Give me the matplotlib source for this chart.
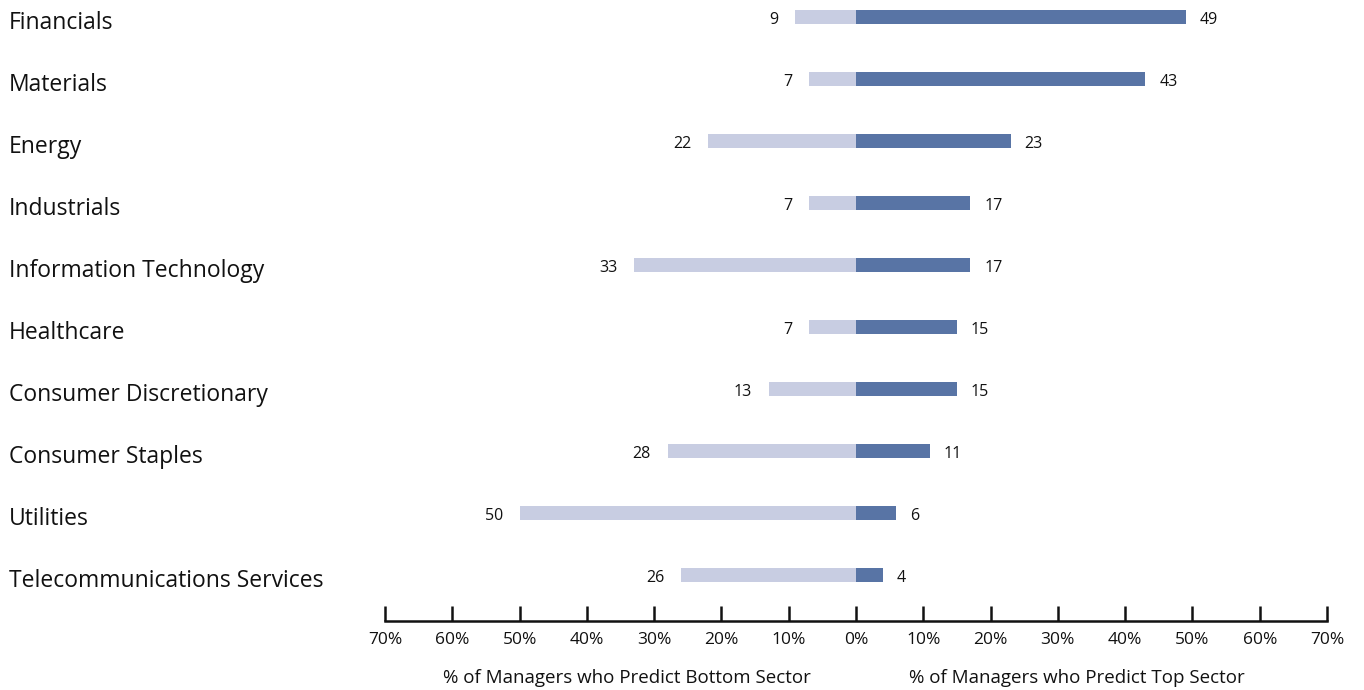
import matplotlib

matplotlib.use("Agg")
import matplotlib.pyplot as plt
from matplotlib import transforms

sectors = [
    "Financials", "Materials", "Energy", "Industrials", "Information Technology",
    "Healthcare", "Consumer Discretionary", "Consumer Staples", "Utilities",
    "Telecommunications Services",
]
top_pct = [49, 43, 23, 17, 17, 15, 15, 11, 6, 4]
bottom_pct = [9, 7, 22, 7, 33, 7, 13, 28, 50, 26]
tick_vals = [-70, -60, -50, -40, -30, -20, -10, 0, 10, 20, 30, 40, 50, 60, 70]

DARK = "#5874a5"
LIGHT = "#c8cde2"
FONT = ["Open Sans", "DejaVu Sans"]

plt.rcParams["font.family"] = FONT

fig = plt.figure(figsize=(13.64, 6.90), dpi=100)
ax = fig.add_axes([385 / 1364, 0.1, (1327 - 385) / 1364, 0.9])

rows = list(range(len(sectors)))
ax.barh(rows, [-v for v in bottom_pct], height=0.24, color=LIGHT)
ax.barh(rows, top_pct, height=0.24, color=DARK)

for y, v in zip(rows, top_pct):
    ax.annotate(str(v), (v, y), xytext=(10, -2), textcoords="offset points",
                ha="left", va="center", fontsize=11.5, color="#111111")
for y, v in zip(rows, bottom_pct):
    ax.annotate(str(v), (-v, y), xytext=(-12, -2), textcoords="offset points",
                ha="right", va="center", fontsize=11.5, color="#111111")

trans = transforms.blended_transform_factory(fig.transFigure, ax.transData)
for y, name in enumerate(sectors):
    ax.text(9 / 1364, y + 0.1, name, transform=trans, ha="left", va="center",
            fontsize=16.5, color="#111111")

ax.set_xlim(-70, 70)
ax.set_ylim(9.742, -0.274)
ax.set_xticks(tick_vals)
ax.set_xticklabels([f"{abs(v)}%" for v in tick_vals], fontsize=12.5)
ax.set_yticks([])
ax.tick_params(axis="x", direction="in", length=11, width=1.8, pad=8,
               colors="#111111")
for side in ("top", "right", "left"):
    ax.spines[side].set_visible(False)
ax.spines["bottom"].set_linewidth(1.8)
ax.spines["bottom"].set_color("#111111")

fig.text(627 / 1364, 1 - 678 / 690, "% of Managers who Predict Bottom Sector",
         ha="center", va="center", fontsize=13.5, color="#111111")
fig.text(1077 / 1364, 1 - 678 / 690, "% of Managers who Predict Top Sector",
         ha="center", va="center", fontsize=13.5, color="#111111")

fig.savefig("out.png", dpi=100)
